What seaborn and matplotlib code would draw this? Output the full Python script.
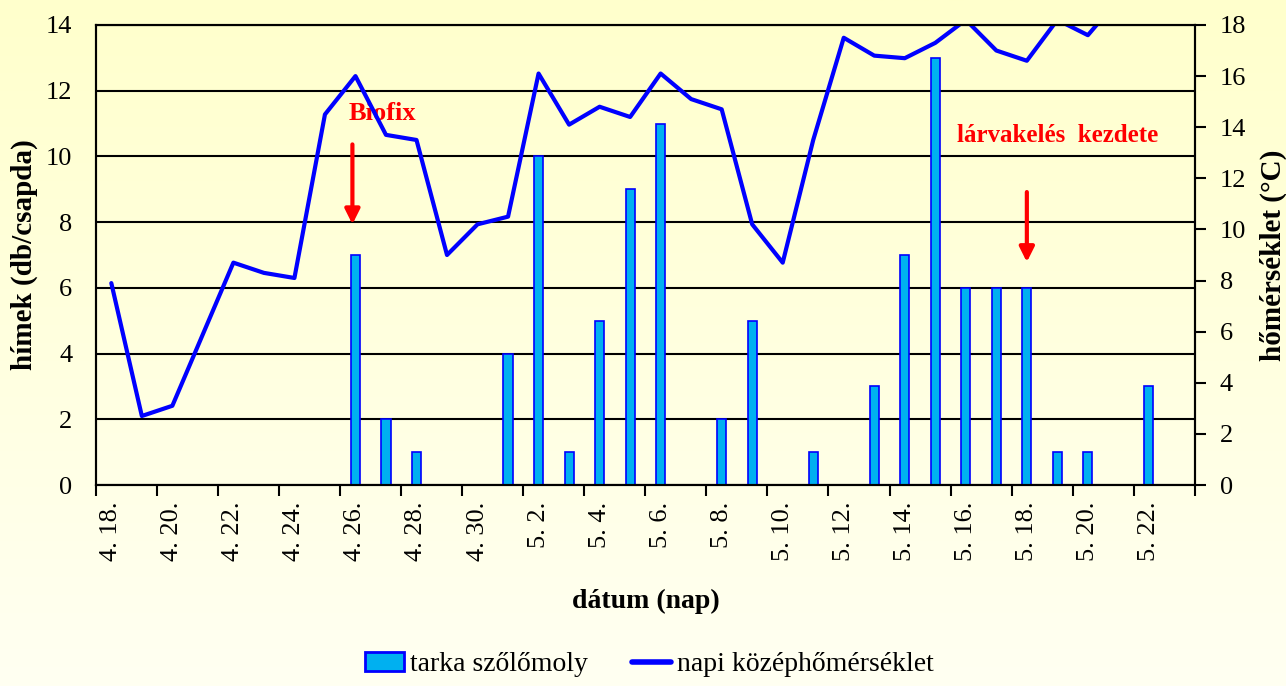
import numpy as np
import pandas as pd
import matplotlib
matplotlib.use("Agg")
import matplotlib.pyplot as plt
from matplotlib.patches import Patch
from matplotlib.lines import Line2D
import seaborn as sns

sns.set_theme(style="white")
plt.rcParams["font.family"] = ["Liberation Serif", "DejaVu Serif"]
plt.rcParams.update({"text.color": "black", "axes.labelcolor": "black",
                     "xtick.color": "black", "ytick.color": "black"})

# napok: 4.18 - 5.23
datumok = [f"4. {d}." for d in range(18, 31)] + [f"5. {d}." for d in range(1, 24)]

# tarka szőlőmoly fogás (hím/csapda), NaN = nincs fogás
himek = [np.nan, np.nan, np.nan, np.nan, np.nan, np.nan, np.nan, np.nan, 7, 2, 1, np.nan, np.nan,
         4, 10, 1, 5, 9, 11, np.nan, 2, 5, np.nan, 1, np.nan, 3, 7, 13, 6, 6, 6, 1, 1, np.nan, 3, np.nan]

# napi középhőmérséklet (°C)
homerseklet = [7.9, 2.7, 3.1, 5.9, 8.7, 8.3, 8.1, 14.5, 16.0, 13.7, 13.5, 9.0, 10.2,
               10.5, 16.1, 14.1, 14.8, 14.4, 16.1, 15.1, 14.7, 10.2, 8.7, 13.5, 17.5, 16.8,
               16.7, 17.3, 18.2, 17.0, 16.6, 18.2, 17.6, 19.0, np.nan, np.nan]

df = pd.DataFrame({"datum": datumok, "himek": himek, "homerseklet": homerseklet,
                   "pos": np.arange(len(datumok))})

BAR = "#00B0F0"
LINE = "#0000FF"

fig = plt.figure(figsize=(12.86, 6.86), dpi=100)

# háttér színátmenet
bg = fig.add_axes([0, 0, 1, 1], zorder=-10)
grad = np.linspace(0, 1, 256).reshape(-1, 1)
top_c = np.array([255, 255, 204]) / 255
bot_c = np.array([255, 255, 242]) / 255
img = top_c[None, None, :] * (1 - grad[..., None]) + bot_c[None, None, :] * grad[..., None]
bg.imshow(img, aspect="auto", extent=[0, 1, 0, 1])
bg.axis("off")

ax = fig.add_axes([0.0747, 0.293, 0.929 - 0.0747, 0.9636 - 0.293])
ax.set_facecolor("none")

sns.barplot(data=df.dropna(subset=["himek"]), x="datum", y="himek", order=datumok,
            color=BAR, saturation=1, width=0.3, edgecolor=LINE, linewidth=1.2, ax=ax)

ax.set_ylim(0, 14)
ax.set_yticks(np.arange(0, 15, 2))
ax.set_xlim(-0.5, len(datumok) - 0.5)
ax.set_axisbelow(True)
ax.yaxis.grid(True, color="black", linewidth=1.5)

ax.set_xticks(np.arange(-0.5, len(datumok), 2))
ax.set_xticklabels([])
ax.set_xticks(np.arange(0, len(datumok) - 1, 2), minor=True)
ax.set_xticklabels(datumok[0:len(datumok) - 1:2], minor=True, rotation=90, fontsize=19)
ax.tick_params(axis="x", which="major", direction="out", length=8, width=1.5, color="black", bottom=True)
ax.tick_params(axis="x", which="minor", length=0, pad=12, bottom=True)
ax.tick_params(axis="y", length=0, pad=17, labelsize=19)

for s in ax.spines.values():
    s.set_color("black")
    s.set_linewidth(1.5)

ax.set_xlabel("dátum (nap)", fontsize=20, fontweight="bold")
ax.xaxis.set_label_coords(0.5, -0.225)
ax.set_ylabel("hímek (db/csapda)", fontsize=21, fontweight="bold")
ax.yaxis.set_label_coords(-0.053, 0.5)

ax2 = ax.twinx()
sns.lineplot(data=df, x="pos", y="homerseklet", color=LINE, linewidth=3, ax=ax2)
ax2.set_ylim(0, 18)
ax2.set_yticks(np.arange(0, 19, 2))
ax2.set_xlim(-0.5, len(datumok) - 0.5)
ax2.tick_params(axis="y", direction="out", length=8, width=1.5, color="black", pad=10, labelsize=19)
for s in ax2.spines.values():
    s.set_color("black")
    s.set_linewidth(1.5)
ax2.set_ylabel("hőmérséklet (°C)", fontsize=21, fontweight="bold")
ax2.yaxis.set_label_coords(1.059, 0.5)

# jelölések
ax.text(8.9, 11.3, "Biofix", color="red", fontsize=19, fontweight="bold", ha="center", va="center")
ax.annotate("", xy=(7.9, 7.85), xytext=(7.9, 10.45),
            arrowprops=dict(arrowstyle="-|>", color="red", lw=3, mutation_scale=22))
ax.text(31.0, 10.65, "lárvakelés  kezdete", color="red", fontsize=18, fontweight="bold",
        ha="center", va="center")
ax.annotate("", xy=(30.0, 6.7), xytext=(30.0, 9.0),
            arrowprops=dict(arrowstyle="-|>", color="red", lw=3, mutation_scale=22))

handles = [Patch(facecolor=BAR, edgecolor=LINE, linewidth=2, label="tarka szőlőmoly"),
           Line2D([0], [0], color=LINE, linewidth=4, label="napi középhőmérséklet")]
fig.legend(handles=handles, loc="center", bbox_to_anchor=(0.505, 0.031), ncol=2, frameon=False,
           fontsize=20, handlelength=1.4, handletextpad=0.2, columnspacing=1.6)

fig.savefig("out.png", dpi=100)
